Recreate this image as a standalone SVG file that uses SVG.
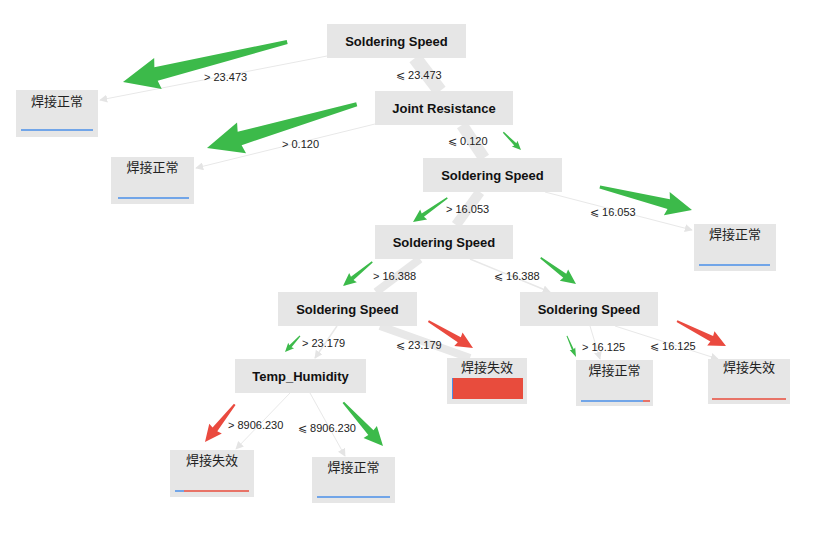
<svg xmlns="http://www.w3.org/2000/svg" width="830" height="544" viewBox="0 0 830 544">
<style>
.n{fill:#e6e6e6}
.t{font-family:"Liberation Sans",Arial,sans-serif;font-weight:bold;font-size:13px;fill:#111;text-anchor:middle}
.c{font-family:"Noto Sans CJK SC",sans-serif;font-size:13px;fill:#222;text-anchor:middle}
.l{font-family:"Liberation Sans",Arial,sans-serif;font-size:11px;fill:#222}
.e{stroke:#e8e8e8;fill:none}
.g{fill:#3cba4a}.r{fill:#ea4a3f}
</style>
<defs>
<marker id="ah" viewBox="0 0 10 10" refX="9" refY="5" markerWidth="8" markerHeight="8" markerUnits="userSpaceOnUse" orient="auto"><path d="M0,0L10,5L0,10z" fill="#e4e4e4"/></marker>
</defs>
<rect width="830" height="544" fill="#fff"/>
<g id="edges">
<line class="e" x1="327" y1="56" x2="100" y2="100" stroke-width="1" marker-end="url(#ah)"/>
<line class="e" x1="415" y1="58" x2="440" y2="91" stroke-width="14"/>
<line class="e" x1="375" y1="124" x2="196" y2="168" stroke-width="1" marker-end="url(#ah)"/>
<line class="e" x1="462" y1="125" x2="484" y2="158" stroke-width="12"/>
<line class="e" x1="545" y1="192" x2="692" y2="230" stroke-width="1" marker-end="url(#ah)"/>
<line class="e" x1="480" y1="192" x2="456" y2="225" stroke-width="10"/>
<line class="e" x1="420" y1="259" x2="376" y2="292" stroke-width="8"/>
<line class="e" x1="470" y1="259" x2="550" y2="292" stroke-width="1.5" marker-end="url(#ah)"/>
<line class="e" x1="337" y1="326" x2="315" y2="358" stroke-width="1.5" marker-end="url(#ah)"/>
<line class="e" x1="380" y1="326" x2="470" y2="358" stroke-width="8"/>
<line class="e" x1="590" y1="326" x2="600" y2="359" stroke-width="1" marker-end="url(#ah)"/>
<line class="e" x1="615" y1="326" x2="718" y2="359" stroke-width="1" marker-end="url(#ah)"/>
<line class="e" x1="290" y1="393" x2="236" y2="449" stroke-width="1" marker-end="url(#ah)"/>
<line class="e" x1="310" y1="393" x2="345" y2="456" stroke-width="1" marker-end="url(#ah)"/>
</g>
<g id="labels">
<text class="l" x="204" y="81">&gt; 23.473</text>
<text class="l" x="396" y="79">⩽ 23.473</text>
<text class="l" x="282" y="148">&gt; 0.120</text>
<text class="l" x="448" y="145">⩽ 0.120</text>
<text class="l" x="446" y="213">&gt; 16.053</text>
<text class="l" x="590" y="216">⩽ 16.053</text>
<text class="l" x="373" y="280">&gt; 16.388</text>
<text class="l" x="494" y="280">⩽ 16.388</text>
<text class="l" x="302" y="347">&gt; 23.179</text>
<text class="l" x="396" y="349">⩽ 23.179</text>
<text class="l" x="582" y="351">&gt; 16.125</text>
<text class="l" x="650" y="350">⩽ 16.125</text>
<text class="l" x="228" y="429">&gt; 8906.230</text>
<text class="l" x="298" y="432">⩽ 8906.230</text>
</g>
<g id="root"><rect class="n" x="327" y="24" width="139" height="34"/><text class="t" x="396.5" y="46">Soldering Speed</text></g>
<g id="leaf1"><rect class="n" x="16" y="90" width="82" height="47"/><text class="c" x="57" y="106">焊接正常</text><line x1="21" y1="130" x2="93" y2="130" stroke="#4a8fe8" stroke-width="1.5"/></g>
<g id="jr"><rect class="n" x="375" y="91" width="138" height="34"/><text class="t" x="444" y="113">Joint Resistance</text></g>
<g id="leaf2"><rect class="n" x="111" y="157" width="83" height="47"/><text class="c" x="152.5" y="172">焊接正常</text><line x1="118" y1="198" x2="189" y2="198" stroke="#4a8fe8" stroke-width="1.5"/></g>
<g id="ss2"><rect class="n" x="423" y="158" width="139" height="34"/><text class="t" x="492.5" y="180">Soldering Speed</text></g>
<g id="leaf3"><rect class="n" x="694" y="224" width="82" height="47"/><text class="c" x="735" y="239">焊接正常</text><line x1="699" y1="265" x2="770" y2="265" stroke="#4a8fe8" stroke-width="1.5"/></g>
<g id="ss3"><rect class="n" x="375" y="225" width="138" height="34"/><text class="t" x="444" y="247">Soldering Speed</text></g>
<g id="ss4"><rect class="n" x="278" y="292" width="139" height="34"/><text class="t" x="347.5" y="314">Soldering Speed</text></g>
<g id="ss5"><rect class="n" x="520" y="292" width="138" height="34"/><text class="t" x="589" y="314">Soldering Speed</text></g>
<g id="th"><rect class="n" x="235" y="359" width="131" height="34"/><text class="t" x="300.5" y="381">Temp_Humidity</text></g>
<g id="leaf4"><rect class="n" x="447" y="358" width="80" height="46"/><text class="c" x="487" y="372">焊接失效</text><rect x="452" y="378" width="71" height="21" fill="#e84c3d"/><line x1="452.5" y1="378" x2="452.5" y2="399" stroke="#4a8fe8" stroke-width="1"/></g>
<g id="leaf5"><rect class="n" x="576" y="360" width="77" height="46"/><text class="c" x="614.5" y="375">焊接正常</text><line x1="581" y1="401" x2="643" y2="401" stroke="#4a8fe8" stroke-width="1.5"/><line x1="643" y1="401" x2="650" y2="401" stroke="#e84c3d" stroke-width="1.5"/></g>
<g id="leaf6"><rect class="n" x="708" y="359" width="82" height="45"/><text class="c" x="749" y="372">焊接失效</text><line x1="712" y1="399" x2="786" y2="399" stroke="#e84c3d" stroke-width="1.5"/></g>
<g id="leaf7"><rect class="n" x="170" y="450" width="84" height="47"/><text class="c" x="212" y="465">焊接失效</text><line x1="175" y1="491" x2="184" y2="491" stroke="#4a8fe8" stroke-width="1.5"/><line x1="184" y1="491" x2="249" y2="491" stroke="#e84c3d" stroke-width="1.5"/></g>
<g id="leaf8"><rect class="n" x="312" y="457" width="83" height="46"/><text class="c" x="353.5" y="472">焊接正常</text><line x1="317" y1="497" x2="390" y2="497" stroke="#4a8fe8" stroke-width="1.5"/></g>
<g id="annotations">
<g transform="translate(123,82) rotate(166.3)"><polygon class="g" points="-169,-2 -34,-7 -36,-16 0,0 -36,16 -34,7 -169,2"/></g>
<g transform="translate(207,148) rotate(163.7)"><polygon class="g" points="-156,-2 -34,-7 -36,-16 0,0 -36,16 -34,7 -156,2"/></g>
<g transform="translate(521,150) rotate(45)"><polygon class="g" points="-25,-0.7 -8,-1.5 -9,-4 0,0 -9,4 -8,1.5 -25,0.7"/></g>
<g transform="translate(413,222) rotate(144.8)"><polygon class="g" points="-42,-0.8 -12,-2 -13,-6 0,0 -13,6 -12,2 -42,0.8"/></g>
<g transform="translate(692,210) rotate(14)"><polygon class="g" points="-95,-1.5 -24,-5 -26,-12 0,0 -26,12 -24,5 -95,1.5"/></g>
<g transform="translate(343,286) rotate(140.4)"><polygon class="g" points="-38,-0.8 -12,-2 -13,-6 0,0 -13,6 -12,2 -38,0.8"/></g>
<g transform="translate(576,284) rotate(36.6)"><polygon class="g" points="-44,-0.8 -14,-2.5 -15,-7 0,0 -15,7 -14,2.5 -44,0.8"/></g>
<g transform="translate(285,352) rotate(133)"><polygon class="g" points="-22,-0.6 -8,-1.5 -9,-4 0,0 -9,4 -8,1.5 -22,0.6"/></g>
<g transform="translate(473,348) rotate(31)"><polygon class="r" points="-52,-1 -16,-3 -17,-8 0,0 -17,8 -16,3 -52,1"/></g>
<g transform="translate(576,357) rotate(66.8)"><polygon class="g" points="-23,-0.5 -8,-1 -9,-3 0,0 -9,3 -8,1 -23,0.5"/></g>
<g transform="translate(726,346) rotate(27)"><polygon class="r" points="-55,-1 -16,-3 -17,-8 0,0 -17,8 -16,3 -55,1"/></g>
<g transform="translate(205,442) rotate(128.3)"><polygon class="r" points="-48,-1 -16,-3 -17,-8 0,0 -17,8 -16,3 -48,1"/></g>
<g transform="translate(383,446) rotate(47.7)"><polygon class="g" points="-59,-1 -18,-3.5 -19,-9 0,0 -19,9 -18,3.5 -59,1"/></g>
</g>
</svg>
